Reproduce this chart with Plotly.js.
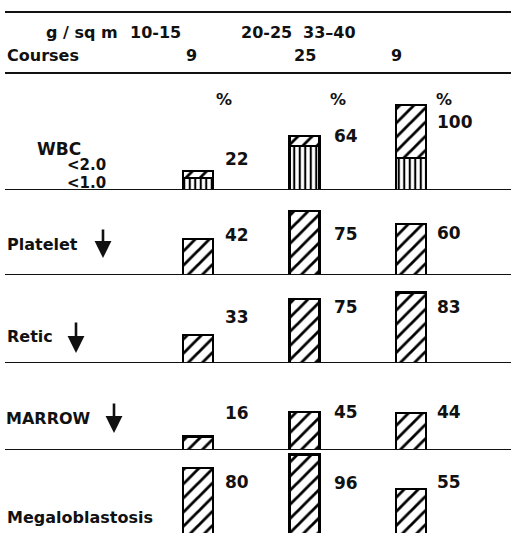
<!DOCTYPE html>
<html>
<head>
<meta charset="utf-8">
<script src="https://cdn.plot.ly/plotly-3.0.1.min.js"></script>
<style>
  html, body { margin: 0; padding: 0; background: #fff; }
  #chart { width: 511px; height: 533px; }
</style>
</head>
<body>
<div id="chart"></div>
<script>
// ---- data ----
const doses = ["10-15", "20-25", "33–40"];
const doseHeader = "g / sq m";
const courses = [9, 25, 9];
const rowNames = ["WBC", "Platelet", "Retic", "MARROW", "Megaloblastosis"];
const wbcUnder2 = [22, 64, 100];   // % courses with WBC < 2.0 (bar total)
const wbcUnder1 = [14, 52, 38];    // % courses with WBC < 1.0 (vertical hatch part)
const plateletLow = [42, 75, 60];
const reticLow = [33, 75, 83];
const marrowLow = [16, 45, 44];
const megaloblastosis = [80, 96, 55];

// ---- layout helpers (pixel geometry) ----
const W = 511, H = 533;
const px = v => v / W;
const py = v => 1 - v / H;
const k = 0.85;                 // px per percent
const baselines = [190, 275, 363, 450, 536];
const rowTop = 95;              // px height of each row's plot window
const FONT = "DejaVu Sans";
const ink = "#111";

// x axis: bar centres at 198, 305, 411 px
const x0px = 198, dxpx = 106.5;
const xr = [-x0px / dxpx, (W - x0px) / dxpx];
const barW = 30 / dxpx;

const layout = {
  width: W, height: H,
  margin: {l: 0, r: 0, t: 0, b: 0},
  paper_bgcolor: "#fff", plot_bgcolor: "rgba(0,0,0,0)",
  showlegend: false,
  barmode: "stack",
  xaxis: {type: "category", range: xr, visible: false, fixedrange: true, anchor: "y"},
  annotations: [],
  shapes: []
};

baselines.forEach((B, i) => {
  const Db = Math.min(B, H), Dt = B - rowTop;
  const key = i === 0 ? "yaxis" : "yaxis" + (i + 1);
  layout[key] = {
    domain: [py(Db), py(Dt)],
    range: [(B - Db) / k, (B - Dt) / k],
    visible: false, fixedrange: true, anchor: "x"
  };
});

const diag = {shape: "/", size: 10, solidity: 0.28, fgcolor: "#000", bgcolor: "#fff", fillmode: "replace"};
const vert = {shape: "|", size: 5.5, solidity: 0.38, fgcolor: "#000", bgcolor: "#fff", fillmode: "replace"};
const outline = {color: "#000", width: 2.2};

function barTrace(vals, yaxis, pattern, name) {
  return {
    type: "bar", x: doses, y: vals, yaxis: yaxis, xaxis: "x", name: name,
    width: barW, marker: {color: "#fff", pattern: pattern, line: outline},
    hoverinfo: "skip"
  };
}

const wbcUpper = wbcUnder2.map((v, i) => v - wbcUnder1[i]);
const traces = [
  barTrace(wbcUnder1, "y", vert, "WBC <1.0"),
  barTrace(wbcUpper, "y", diag, "WBC <2.0"),
  barTrace(plateletLow, "y2", diag, "Platelet"),
  barTrace(reticLow, "y3", diag, "Retic"),
  barTrace(marrowLow, "y4", diag, "Marrow"),
  barTrace(megaloblastosis, "y5", diag, "Megaloblastosis")
];

// ---- rules ----
[12, 73].forEach(y => layout.shapes.push({
  type: "line", xref: "paper", yref: "paper", x0: px(5), x1: 1, y0: py(y), y1: py(y),
  line: {color: ink, width: 2}
}));
["y", "y2", "y3", "y4"].forEach(ya => layout.shapes.push({
  type: "line", xref: "paper", yref: ya, x0: px(5), x1: 1, y0: 0, y1: 0,
  line: {color: ink, width: 2}
}));

// ---- text ----
function txt(text, xpx, ypx, anchor, size) {
  layout.annotations.push({
    text: text, xref: "paper", yref: "paper", x: px(xpx), y: py(ypx),
    xanchor: anchor || "center", yanchor: "middle", showarrow: false,
    font: {family: FONT, size: size || 16, color: ink, weight: "bold"}
  });
}
txt(doseHeader, 82, 32);
const doseX = [155, 266, 329];
doses.forEach((d, i) => txt(d, doseX[i], 32));
txt("Courses", 5, 55, "left");
const courseX = [191, 305, 396];
courses.forEach((c, i) => txt(String(c), courseX[i], 55));
[224, 338, 444].forEach(x => txt("%", x, 100));

txt(rowNames[0], 35, 149, "left", 17);
txt("<2.0", 65, 165, "left", 15);
txt("<1.0", 65, 183, "left", 15);
txt(rowNames[1], 5, 245, "left");
txt(rowNames[2], 5, 336, "left");
txt(rowNames[3], 4, 418, "left");
txt(rowNames[4], 5, 517, "left");

// value labels, right of each bar
const labelY = [[159, 136, 122], [235, 234, 233], [317, 307, 307], [413, 412, 412], [482, 483, 482]];
const labelDX = [25, 27, 24];
const rowVals = [wbcUnder2, plateletLow, reticLow, marrowLow, megaloblastosis];
rowVals.forEach((vals, r) => vals.forEach((v, c) => {
  layout.annotations.push({
    text: String(v), xref: "x", yref: "paper", x: doses[c], y: py(labelY[r][c]),
    xanchor: "left", yanchor: "middle", xshift: labelDX[c], showarrow: false,
    font: {family: FONT, size: 17, color: ink, weight: "bold"}
  });
}));

// down arrows
[[103, 228, 258], [76, 321, 353], [114, 402, 433]].forEach(a => layout.annotations.push({
  text: "", xref: "paper", yref: "paper", x: px(a[0]), y: py(a[2]),
  axref: "pixel", ayref: "pixel", ax: 0, ay: -(a[2] - a[1]),
  showarrow: true, arrowhead: 2, arrowsize: 1.3, arrowwidth: 2.6, arrowcolor: ink, standoff: 0
}));

Plotly.newPlot("chart", traces, layout, {staticPlot: true, displayModeBar: false});
</script>
</body>
</html>
